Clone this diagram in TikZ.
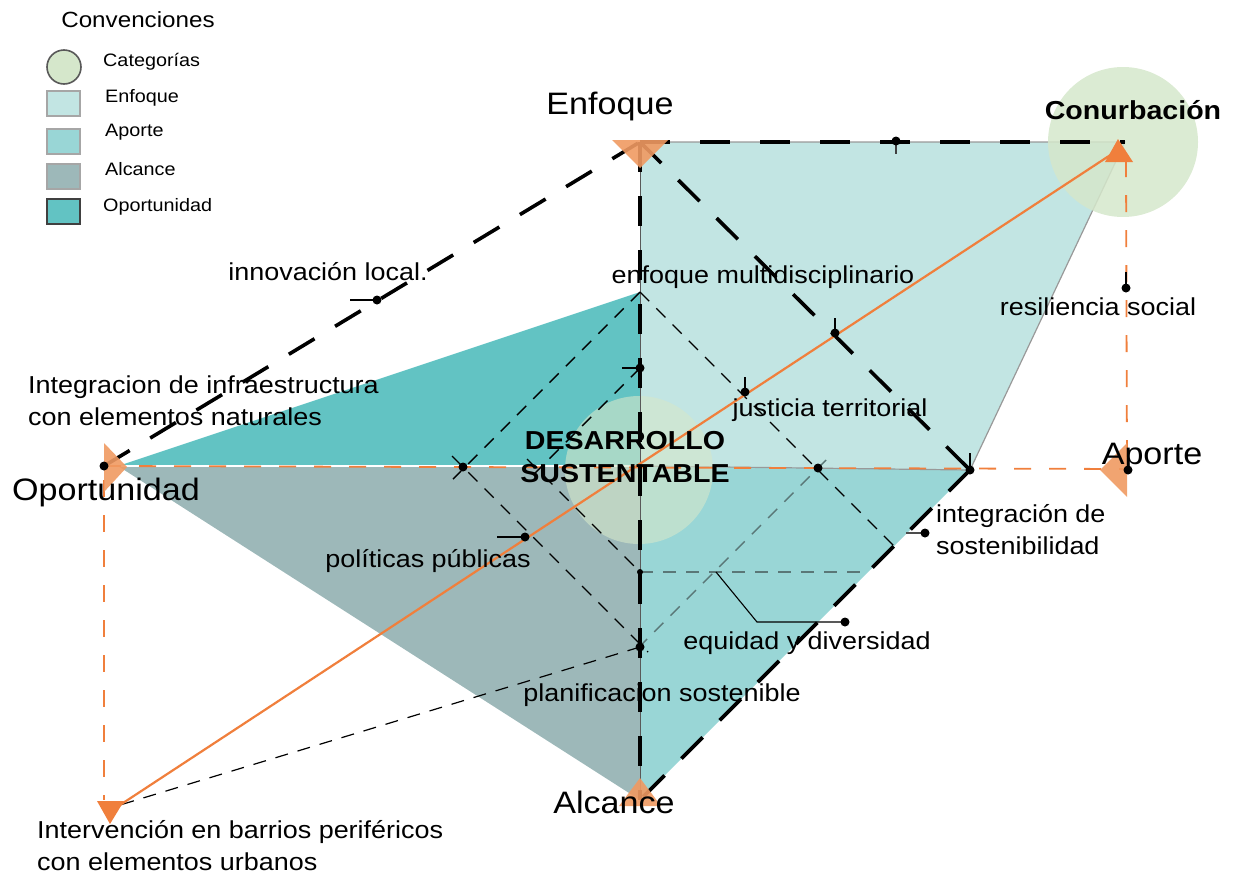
\documentclass[tikz,border=0pt]{standalone}
\usepackage{fontspec}
\setmainfont[FakeStretch=1.1]{Liberation Sans}
\newcommand\fbig{\fontsize{31}{34}\selectfont}
\newcommand\fmid{\fontsize{24.5}{32}\selectfont}
\newcommand\fbold{\fontsize{26}{33}\selectfont\bfseries}
\newcommand\flegt{\fontsize{22}{26}\selectfont}
\newcommand\flegi{\fontsize{18}{22}\selectfont}
\definecolor{cEnf}{HTML}{C2E5E3}
\definecolor{cApo}{HTML}{99D6D6}
\definecolor{cAlc}{HTML}{9DB8B9}
\definecolor{cOpo}{HTML}{62C3C3}
\definecolor{cCat}{HTML}{D5E7CB}
\definecolor{cOr}{HTML}{F07F3C}
\definecolor{cOrT}{HTML}{F09A62}
\definecolor{cGr}{HTML}{5A7777}
\tikzset{
  lbl/.style={inner sep=0pt, font=\fmid},
  big/.style={inner sep=0pt, font=\fbig},
  thickdash/.style={line width=3.6pt, dash pattern=on 30pt off 24pt},
  thindash/.style={line width=1.4pt, dash pattern=on 13pt off 10pt},
  ordash/.style={cOr, line width=1.8pt, dash pattern=on 17pt off 18pt},
  orline/.style={cOr, line width=2.2pt},
  tri/.style={fill=cOrT, fill opacity=0.9, draw=none},
  dotc/.style={circle, fill=black, inner sep=0pt, minimum size=9pt},
  tick/.style={line width=1.3pt},
  legbox/.style={draw=gray!70, line width=1.6pt},
}
\begin{document}
\begin{tikzpicture}[x=1pt,y=-1pt]
\useasboundingbox (0,0) rectangle (1240,876);
% key points
\coordinate (E) at (640,142);
\coordinate (C) at (1125,142);
\coordinate (O) at (104,466);
\coordinate (Ap) at (1127,469);
\coordinate (Al) at (640,800);
\coordinate (P) at (970,470);
\coordinate (M) at (640,292);
\coordinate (Q) at (640,368);
\coordinate (R) at (640,572);
\coordinate (S) at (640,647);
\coordinate (X1) at (463,467);
\coordinate (X2) at (818,468);
\coordinate (T1) at (895,547);
\coordinate (H) at (868,572);
\coordinate (B) at (120,805);
\coordinate (Cu) at (1118,150);
\coordinate (Ol) at (118,466);
% regions
\fill[cEnf] (E) -- (C) -- (P) -- (640,466) -- cycle;
\fill[cApo] (640,466) -- (P) -- (Al) -- cycle;
\fill[cAlc] (Ol) -- (640,466) -- (Al) -- cycle;
\fill[cOpo] (Ol) -- (M) -- (640,466) -- cycle;
\draw[gray!80, line width=1.2pt] (E) -- (C) -- (P) -- (640,466);
\draw[white, line width=1.5pt] (Ol) -- (640,466);
% category circles
\fill[cCat, fill opacity=0.85] (1123,142) circle (75);
\fill[cCat, fill opacity=0.6] (639,470) circle (74);
% thin solid vertical
\draw[gray!70!black, line width=1pt] (E) -- (Al);
% orange dashed guides
\draw[ordash] (O) -- (Ap);
\draw[ordash] (104,480) -- (104,800);
\draw[ordash] (1126,160) -- (Ap);
% thin dashed grid
\draw[thindash] (M) -- (453,479);
\draw[thindash] (M) -- (T1);
\draw[thindash] (Q) -- (528,480);
\draw[thindash] (527,459) -- (R);
\draw[thindash] (452,456) -- (648,652);
\draw[thindash, cGr] (826,460) -- (632,654);
\draw[thindash, cGr, line width=1.1pt] (R) -- (H);
\draw[thindash, line width=1.2pt] (S) -- (B);
% thick dashed
\draw[thickdash] (O) -- (E);
\draw[thickdash, dash pattern=on 30pt off 30pt] (E) -- (C);
\draw[thickdash] (E) -- (P);
\draw[thickdash] (E) -- (Al);
\draw[thickdash] (P) -- (Al);
% orange arrow line
\draw[orline] (Cu) -- (B);
% triangles
\fill[tri] (612,140) -- (668,140) -- (640,168) -- cycle;
\fill[tri] (104,443) -- (127,467) -- (104,492) -- cycle;
\fill[tri] (1127,443) -- (1100,470) -- (1127,497) -- cycle;
\fill[tri] (640,778) -- (661,806) -- (619,806) -- cycle;
\fill[cOr] (1118,139) -- (1133,162) -- (1105,162) -- cycle;
\fill[cOr] (97,801) -- (124,801) -- (110,824) -- cycle;
% ticks and leaders
\draw[tick] (350,300) -- (377,300);
\draw[tick] (622,368) -- (640,368);
\draw[tick] (497,537) -- (525,537);
\draw[tick] (835,318) -- (835,333);
\draw[tick] (745,377) -- (745,392);
\draw[tick] (970,453) -- (970,470);
\draw[tick, gray!50!black] (896,141) -- (896,154);
\draw[tick] (1126,272) -- (1126,288);
\draw[tick, gray!60!black] (906,533) -- (925,533);
\draw[tick, line width=1.1pt] (716,572) -- (757,622) -- (845,622);
% dots
\node[dotc] (d1) at (O) {};
\node[dotc] (d2) at (377,300) {};
\node[dotc] (d3) at (Q) {};
\node[dotc] (d4) at (X1) {};
\node[dotc] (d5) at (525,537) {};
\node[dotc, minimum size=6pt] (d6) at (R) {};
\node[dotc] (d7) at (S) {};
\node[dotc] (d8) at (X2) {};
\node[dotc] (d9) at (P) {};
\node[dotc] (d10) at (835,333) {};
\node[dotc] (d11) at (745,392) {};
\node[dotc] (d12) at (896,141) {};
\node[dotc] (d13) at (1126,288) {};
\node[dotc] (d14) at (1128,470) {};
\node[dotc] (d15) at (925,533) {};
\node[dotc] (d16) at (845,622) {};
% legend
\node[inner sep=0pt, font=\flegt] (legt) at (138,20) {Convenciones};
\draw[gray!70!black, line width=1.6pt, fill=cCat] (64,67) circle (17);
\draw[legbox, fill=cEnf] (47,91) rectangle (80,116);
\draw[legbox, fill=cApo] (47,129) rectangle (80,154);
\draw[legbox, fill=cAlc] (47,164) rectangle (80,189);
\draw[legbox, draw=gray!50!black, fill=cOpo] (47,199) rectangle (80,224);
\node[inner sep=0pt, font=\flegi, anchor=west] (l1) at (103,62) {Categorías};
\node[inner sep=0pt, font=\flegi, anchor=west] (l2) at (105,98) {Enfoque};
\node[inner sep=0pt, font=\flegi, anchor=west] (l3) at (105,132) {Aporte};
\node[inner sep=0pt, font=\flegi, anchor=west] (l4) at (105,169) {Alcance};
\node[inner sep=0pt, font=\flegi, anchor=west] (l5) at (103,207) {Oportunidad};
% labels
\node[big] (tE) at (610,106) {Enfoque};
\node[inner sep=0pt, font=\fbold] (tC) at (1133,110) {Conurbación};
\node[lbl] (t1) at (328,272) {innovación local.};
\node[lbl] (t2) at (763,277) {enfoque multidisciplinario};
\node[lbl] (t3) at (1098,307) {resiliencia social};
\node[lbl, align=left, anchor=west] (t4) at (28,401) {Integracion de infraestructura\\con elementos naturales};
\node[lbl] (t5) at (830,410) {justicia territorial};
\node[inner sep=0pt, font=\fbold, align=center] (tD) at (625,457) {DESARROLLO\\SUSTENTABLE};
\node[big] (tO) at (106,492) {Oportunidad};
\node[big] (tA) at (1152,457) {Aporte};
\node[lbl, align=left, anchor=west] (t6) at (936,530) {integración de\\sostenibilidad};
\node[lbl] (t7) at (428,561) {políticas públicas};
\node[lbl] (t8) at (807,643) {equidad y diversidad};
\node[lbl] (t9) at (662,695) {planificacion sostenible};
\node[big] (tL) at (614,802) {Alcance};
\node[lbl, align=left, anchor=west] (t10) at (37,846) {Intervención en barrios periféricos\\con elementos urbanos};
\end{tikzpicture}
\end{document}
